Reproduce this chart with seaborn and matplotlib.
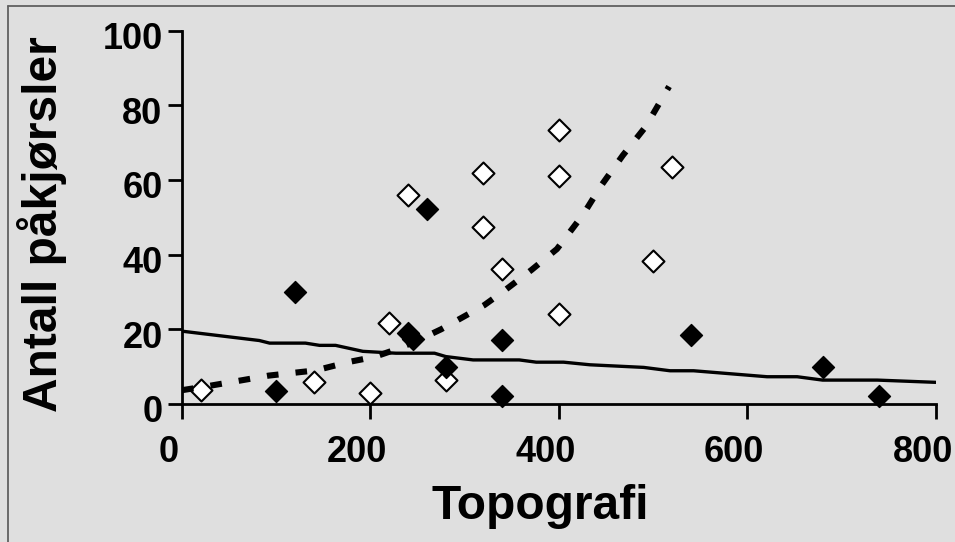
import matplotlib
matplotlib.use("Agg")
import matplotlib.pyplot as plt
import seaborn as sns
from matplotlib.transforms import ScaledTranslation
from matplotlib.lines import Line2D

# ---- data ----
open_x = [20, 140, 200, 220, 240, 280, 320, 320, 340, 400, 400, 400, 500, 520]
open_y = [3.7, 6.0, 2.9, 21.8, 56.0, 6.5, 61.9, 47.5, 36.2, 73.3, 61.1, 24.0, 38.4, 63.4]

filled_x = [100, 120, 240, 245, 260, 280, 340, 340, 540, 680, 740]
filled_y = [3.5, 30.1, 19.0, 17.5, 52.2, 9.8, 17.2, 2.2, 18.6, 9.8, 2.2]

solid_x = [0, 82, 93, 131, 146, 163, 192, 227, 268, 280, 309, 358, 376, 405,
           433, 490, 518, 543, 621, 653, 680, 738, 800]
solid_y = [19.5, 17.0, 16.3, 16.3, 15.7, 15.7, 14.1, 13.6, 13.6, 12.7, 11.8, 11.8,
           11.2, 11.2, 10.5, 9.8, 8.9, 8.9, 7.3, 7.3, 6.4, 6.4, 5.8]

dash_x = [0, 30, 60, 92, 124, 142, 178, 204, 226, 250, 275, 302, 321, 343, 371,
          398, 426, 445, 468, 492, 517]
dash_y = [3.7, 4.9, 6.2, 7.6, 8.5, 9.0, 11.3, 12.6, 14.5, 17.0, 20.0, 23.8, 26.5,
          30.5, 35.9, 41.5, 50.8, 58.5, 66.6, 74.2, 85.0]

x_ticks = [0, 200, 400, 600, 800]
y_ticks = [0, 20, 40, 60, 80, 100]
x_label = "Topografi"
y_label = "Antall påkjørsler"

# ---- style ----
sns.set_theme(style="ticks")
plt.rcParams["font.family"] = ["Liberation Sans", "DejaVu Sans"]
plt.rcParams["font.weight"] = "bold"
BG = "#dfdfdf"

fig = plt.figure(figsize=(9.55, 5.42), dpi=100, facecolor=BG)
ax = fig.add_axes([182 / 955, 1 - 404 / 542, (935.7 - 182) / 955, (404 - 30.5) / 542])
ax.set_facecolor(BG)

sns.lineplot(x=solid_x, y=solid_y, ax=ax, color="black", linewidth=2.4,
             estimator=None, sort=False, zorder=2)
sns.lineplot(x=dash_x, y=dash_y, ax=ax, color="black", linewidth=4.4,
             estimator=None, sort=False, zorder=4)
ax.lines[-1].set_dashes((1.9, 2.8))
ax.lines[-1].set_dash_capstyle("butt")

sns.scatterplot(x=open_x, y=open_y, ax=ax, marker="D", s=125, color="white",
                edgecolor="black", linewidth=1.5, clip_on=False, zorder=3)
sns.scatterplot(x=filled_x, y=filled_y, ax=ax, marker="D", s=125, color="black",
                edgecolor="black", linewidth=1.0, clip_on=False, zorder=3)

ax.set_xlim(0, 800)
ax.set_ylim(0, 100)
ax.set_xticks(x_ticks)
ax.set_xticklabels([str(v) for v in x_ticks])
ax.set_yticks(y_ticks)
ax.set_yticklabels([str(v) for v in y_ticks])

sns.despine(ax=ax)
for s in ("left", "bottom"):
    ax.spines[s].set_linewidth(2.0)
    ax.spines[s].set_color("black")

ax.tick_params(axis="x", direction="out", length=10.5, width=2, color="black",
               labelsize=26, pad=12, labelcolor="black")
ax.tick_params(axis="y", direction="out", length=10, width=2, color="black",
               labelsize=26, pad=4, labelcolor="black")

for lbl in ax.get_xticklabels():
    lbl.set_transform(lbl.get_transform() + ScaledTranslation(-13 / 100, 0, fig.dpi_scale_trans))
for lbl in ax.get_yticklabels():
    lbl.set_transform(lbl.get_transform() + ScaledTranslation(0, -5 / 100, fig.dpi_scale_trans))

ax.set_xlabel(x_label, fontsize=34.5, fontweight="bold", color="black")
ax.xaxis.set_label_coords(0.475, -0.214)
ax.set_ylabel(y_label, fontsize=34.5, fontweight="bold", color="black")
ax.yaxis.set_label_coords(-0.152, 0.482)

# thin frame at top and left of the picture
fig.add_artist(Line2D([8 / 955, 1], [1 - 5.5 / 542] * 2, transform=fig.transFigure,
                      color="#606060", linewidth=1.3))
fig.add_artist(Line2D([8 / 955] * 2, [0, 1 - 5.5 / 542], transform=fig.transFigure,
                      color="#606060", linewidth=1.3))

fig.savefig("out.png", dpi=100, facecolor=BG)
